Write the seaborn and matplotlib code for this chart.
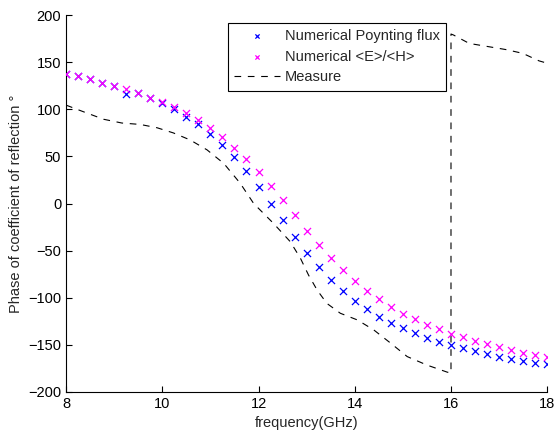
import numpy as np
import pandas as pd
import matplotlib
matplotlib.use('Agg')
import matplotlib.pyplot as plt
import seaborn as sns

sns.set_style('ticks')
plt.rcParams['font.family'] = ['Liberation Sans', 'DejaVu Sans']
plt.rcParams['xtick.direction'] = 'in'
plt.rcParams['ytick.direction'] = 'in'

# frequency grid of the simulations (GHz)
freq = [8.0, 8.25, 8.5, 8.75, 9.0, 9.25, 9.5, 9.75, 10.0, 10.25, 10.5,
        10.75, 11.0, 11.25, 11.5, 11.75, 12.0, 12.25, 12.5, 12.75, 13.0,
        13.25, 13.5, 13.75, 14.0, 14.25, 14.5, 14.75, 15.0, 15.25, 15.5,
        15.75, 16.0, 16.25, 16.5, 16.75, 17.0, 17.25, 17.5, 17.75, 18.0]

poynting = [138, 135, 132, 128.5, 125, 116.5, 117, 112, 107, 100.5, 92,
            84, 73.5, 62, 49, 34.5, 18, 0, -18, -35, -52,
            -67.5, -81.5, -93, -103, -112, -120, -127, -132.5, -137.5, -142.5,
            -147, -150, -153.5, -157, -160, -162.5, -165, -167, -169, -170.5]

e_over_h = [138, 135, 132, 128.5, 125, 122, 117, 112.5, 108, 102.5, 96.5,
            88.5, 80.5, 70.5, 59.5, 47, 34, 19, 3.5, -12, -29,
            -43.5, -58, -71, -82, -92.5, -101.5, -109.5, -117, -123, -128.5,
            -133.5, -138, -142, -146, -149.5, -152.5, -155.5, -158.5, -160.5, -163]

# measured phase (black dashed curve), with the wrap at 16 GHz
meas_freq = [8.0, 8.36, 8.78, 9.16, 9.54, 9.89, 10.23, 10.58, 10.93, 11.28,
             11.62, 11.9, 12.31, 12.66, 12.87, 13.04, 13.22, 13.42, 13.70, 14.05,
             14.39, 14.74, 15.09, 15.50, 15.92, 16.0, 16.0, 16.05, 16.38, 16.79,
             17.14, 17.49, 17.83, 18.0]
meas_phase = [104.5, 97.5, 89.5, 85.5, 84, 80.5, 75, 67.5, 57, 42.5,
              21.5, 0, -21, -40.5, -58, -76, -92, -106, -116.5, -123.5,
              -134, -148, -162.5, -171.5, -179, -180, 180, 179, 170, 166.5,
              163.5, 159.5, 151.5, 149]

df = pd.DataFrame({'freq': freq, 'poynting': poynting, 'eh': e_over_h})
meas = pd.DataFrame({'freq': meas_freq, 'phase': meas_phase})

fig = plt.figure(figsize=(5.55, 4.34), dpi=100)
ax = fig.add_axes([0.119, 0.097, 0.867, 0.868])

sns.scatterplot(data=df, x='freq', y='poynting', marker='x', color='#0000ff',
                s=26, linewidth=0.9, ax=ax, label='Numerical Poynting flux', zorder=3)
sns.scatterplot(data=df, x='freq', y='eh', marker='x', color='#ff00ff',
                s=26, linewidth=0.9, ax=ax, label='Numerical <E>/<H>', zorder=3)
sns.lineplot(data=meas, x='freq', y='phase', estimator=None, sort=False,
             color='black', linewidth=0.8, dashes=False, ax=ax, label='Measure')
ax.lines[-1].set_dashes((6, 6))

ax.set_xlim(8, 18)
ax.set_ylim(-200, 200)
ax.set_xticks([8, 10, 12, 14, 16, 18])
ax.set_yticks([-200, -150, -100, -50, 0, 50, 100, 150, 200])
ax.tick_params(labelsize=10.5, length=4, width=0.8, colors='black')
ax.set_xlabel('frequency(GHz)', fontsize=10.5)
ax.set_ylabel('Phase of coefficient of reflection °', fontsize=10.5)
sns.despine(ax=ax)
for s in ['left', 'bottom']:
    ax.spines[s].set_linewidth(0.8)
    ax.spines[s].set_color('black')

leg = ax.legend(loc='upper right', bbox_to_anchor=(0.79, 0.98), borderaxespad=0,
                fontsize=10.5, fancybox=False, edgecolor='black', framealpha=1,
                handlelength=3.1, handletextpad=0.35, labelspacing=0.45,
                borderpad=0.45, markerscale=0.6)
leg.get_frame().set_linewidth(0.8)
for ln in leg.get_lines():
    ln.set_dashes((6, 6))

fig.savefig('out.png', dpi=100)
